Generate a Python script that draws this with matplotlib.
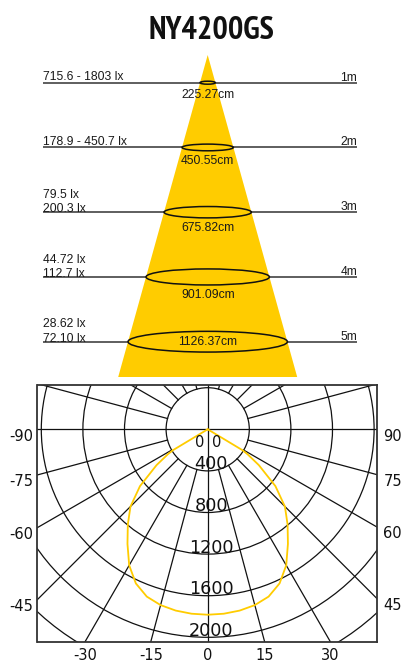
import numpy as np
import matplotlib
matplotlib.use("Agg")
import matplotlib.pyplot as plt
from matplotlib.patches import Ellipse, Polygon, Circle
from matplotlib import font_manager as fm

# ---------------- data ----------------
title = "NY4200GS"
distances_m = [1, 2, 3, 4, 5]
lux_min = ["715.6", "178.9", "79.5", "44.72", "28.62"]
lux_max = ["1803", "450.7", "200.3", "112.7", "72.10"]
diameters_cm = ["225.27", "450.55", "675.82", "901.09", "1126.37"]

polar_angles = [0, 5, 10, 15, 20, 25, 30, 35, 40, 45, 50, 55, 58, 59, 60]
polar_cd = [1783, 1780, 1770, 1750, 1712, 1635, 1510, 1345, 1195, 1050, 850, 600, 450, 390, 0]
ring_values = [400, 800, 1200, 1600, 2000, 2400]
ring_labels = [400, 800, 1200, 1600, 2000]
spoke_step = 15
angle_labels = [-90, -75, -60, -45, -30, -15, 0, 15, 30, 45, 60, 75, 90]

# ---------------- layout ----------------
W, H = 406, 662
fig = plt.figure(figsize=(W / 100, H / 100), dpi=100)
fig.patch.set_facecolor("white")
PT = 0.72  # points per pixel at 100 dpi
YELLOW = "#FFCC00"


def px_rect(x0, y0, x1, y1):
    return [x0 / W, 1 - y1 / H, (x1 - x0) / W, (y1 - y0) / H]


# pick the narrowest bold face available for the condensed title
def title_font():
    best = None
    for f in fm.fontManager.ttflist:
        nm = f.name.lower()
        path = f.fname.lower()
        narrow = ("narrow" in nm or "condensed" in nm or "condensed" in path or "narrow" in path
                  or str(f.stretch) in ("condensed", "semi-condensed", "extra-condensed"))
        w = f.weight if isinstance(f.weight, int) else {"bold": 700, "normal": 400}.get(str(f.weight), 400)
        if narrow and w >= 600 and "italic" not in path and "oblique" not in path:
            score = (0 if "narrow" in nm or "narrow" in path else 1)
            if best is None or score < best[0]:
                best = (score, f.fname)
    if best:
        return fm.FontProperties(fname=best[1]), True
    return fm.FontProperties(family="DejaVu Sans", weight="bold"), False


tprop, is_narrow = title_font()
ttl = fig.text(211.5 / W, 1 - 31 / H, title, ha="center", va="center",
               fontproperties=tprop, color="#111111")
tprop.set_size(26 if is_narrow else 20)
ttl.set_fontproperties(tprop)
# fit title width to ~117 px
fig.canvas.draw()
wpx = ttl.get_window_extent().width
size = tprop.get_size() * min(1.0, 125 / wpx) if wpx > 0 else tprop.get_size()
tprop.set_size(max(size, 17))
ttl.set_fontproperties(tprop)

# ---------------- beam cone diagram ----------------
ax = fig.add_axes(px_rect(0, 0, W, 380))
ax.axis("off")
step_px = 64.75
first_px = 82.7
m_per_px = 1 / step_px
ax.set_xlim(0, W)
ax.set_ylim(1 + (380 - first_px) / step_px, 1 - first_px / step_px)

cx = 207.7
d_apex = 1 + (55 - first_px) / step_px
d_base = 1 + (377 - first_px) / step_px
k = 89.5 / (d_base - d_apex)  # px of half width per metre
ax.add_patch(Polygon([[cx, d_apex], [cx - k * (d_base - d_apex), d_base],
                      [cx + k * (d_base - d_apex), d_base]], closed=True,
                     facecolor=YELLOW, edgecolor="none", zorder=1))

font_small = dict(family=["Liberation Sans", "DejaVu Sans"], fontsize=8.7, color="#1a1a1a")
n = len(distances_m)
for i, d in enumerate(distances_m):
    hw = k * (d - d_apex)
    eh = max(0.13 * 2 * hw, 3.0)
    ax.hlines(d, 43, 357, color="#333333", lw=1.1, zorder=0)
    ax.add_patch(Ellipse((cx, d), 2 * hw, eh * m_per_px, fill=False,
                         edgecolor="#111111", lw=1.1, zorder=3))
    if i < 2:
        ax.text(43.3, d - 2.4 * m_per_px, f"{lux_min[i]} - {lux_max[i]} lx",
                ha="left", va="baseline", zorder=4, **font_small)
    else:
        ax.text(43.3, d - 14.3 * m_per_px, f"{lux_min[i]} lx",
                ha="left", va="baseline", zorder=4, **font_small)
        ax.text(43.3, d + 0.2 * m_per_px, f"{lux_max[i]} lx",
                ha="left", va="baseline", zorder=4, **font_small)
    ax.text(357, d - 2.0 * m_per_px, f"{d}m", ha="right", va="baseline", zorder=4, **font_small)
    if i < n - 1:
        yoff = eh / 2 + 13.5
    else:
        yoff = 3.6
    ax.text(cx, d + yoff * m_per_px, f"{diameters_cm[i]}cm", ha="center",
            va="baseline", zorder=4, **font_small)

# ---------------- polar intensity diagram ----------------
box = (37.5, 385, 377, 641.5)
c_px = (207.7, 429.3)
s = 41.6 / 400  # px per cd
axp = fig.add_axes(px_rect(*box))
axp.set_xlim((box[0] - c_px[0]) / s, (box[2] - c_px[0]) / s)
axp.set_ylim(-(box[3] - c_px[1]) / s, (c_px[1] - box[1]) / s)
axp.set_xticks([])
axp.set_yticks([])
for sp in axp.spines.values():
    sp.set_linewidth(1.3)
    sp.set_color("#333333")

grid_kw = dict(color="#111111", lw=0.9)
for r in ring_values:
    axp.add_patch(Circle((0, 0), r, fill=False, edgecolor="#111111", lw=0.9, zorder=1))
R = 6000
for a in range(0, 360, spoke_step):
    t = np.deg2rad(a)
    r0 = 0 if a % 90 == 0 else ring_values[0]
    axp.plot([r0 * np.sin(t), R * np.sin(t)], [-r0 * np.cos(t), -R * np.cos(t)],
             zorder=1, **grid_kw)

th = np.deg2rad(np.array(polar_angles, dtype=float))
cd = np.array(polar_cd, dtype=float)
th_full = np.concatenate([-th[::-1], th[1:]])
cd_full = np.concatenate([cd[::-1], cd[1:]])
axp.plot(cd_full * np.sin(th_full), -cd_full * np.cos(th_full), color=YELLOW, lw=1.3, zorder=2)

lab_font = dict(family="DejaVu Sans", color="#111111")
for v in ring_labels:
    axp.annotate(str(v), (0, -v), xytext=(3.5 * PT, 1.5 * PT), textcoords="offset points",
                 ha="center", va="baseline", fontsize=12.7, zorder=4, **lab_font)
for dx in (-8.5, 8.8):
    axp.annotate("0", (0, 0), xytext=(dx * PT, -17.4 * PT), textcoords="offset points",
                 ha="center", va="baseline", fontsize=10.5, zorder=4, **lab_font)

xl, xr = axp.get_xlim()
yb = axp.get_ylim()[0]
for a in angle_labels:
    t = np.deg2rad(a)
    st, ct = np.sin(t), np.cos(t)
    cands = []
    if st > 1e-9:
        cands.append((xr / st, "right"))
    elif st < -1e-9:
        cands.append((xl / st, "left"))
    if ct > 1e-9:
        cands.append((-yb / ct, "bottom"))
    tt, side = min(cands, key=lambda c: c[0])
    px, py = tt * st, -tt * ct
    txt = f"{a}" if a >= 0 else f"-{abs(a)}"
    if side == "left":
        axp.annotate(txt, (xl, py), xytext=(-4.2 * PT, -11.3 * PT), textcoords="offset points",
                     ha="right", va="baseline", fontsize=10.5, annotation_clip=False, **lab_font)
    elif side == "right":
        axp.annotate(txt, (xr, py), xytext=(6.3 * PT, -11.3 * PT), textcoords="offset points",
                     ha="left", va="baseline", fontsize=10.5, annotation_clip=False, **lab_font)
    else:
        axp.annotate(txt, (px, yb), xytext=(0, -18.3 * PT), textcoords="offset points",
                     ha="center", va="baseline", fontsize=10.5, annotation_clip=False, **lab_font)

fig.savefig("out.png", dpi=100, facecolor="white")
